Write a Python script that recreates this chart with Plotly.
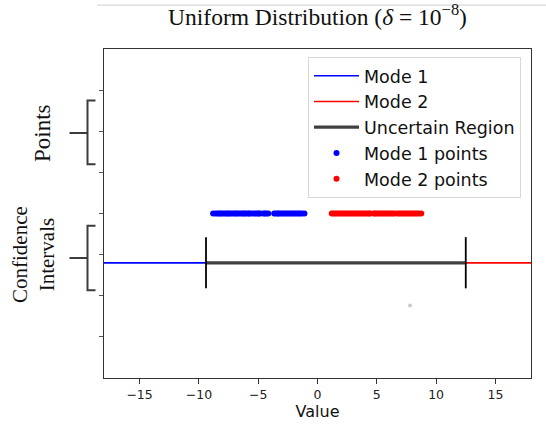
import plotly.graph_objects as go

# ---- data ----
mode1_points = [-8.8, -8.6, -8.45, -8.3, -8.2, -8.05, -7.9, -7.75, -7.6, -7.5, -7.35, -7.2,
                -7.05, -6.9, -6.8, -6.65, -6.5, -6.35, -6.2, -6.1, -5.95, -5.8, -5.7, -5.55,
                -5.35, -5.2, -5.05, -4.95, -4.8, -4.55, -4.45, -4.3, -4.15, -3.65, -3.5, -3.35,
                -3.25, -3.1, -2.95, -2.8, -2.65, -2.5, -2.35, -2.2, -2.05, -1.9, -1.75, -1.6,
                -1.45, -1.3, -1.1]
mode2_points = [1.2, 1.35, 1.5, 1.65, 1.8, 1.95, 2.1, 2.25, 2.4, 2.55, 2.7, 2.85, 3.0, 3.15,
                3.3, 3.45, 3.6, 3.75, 3.9, 4.05, 4.2, 4.35, 4.45, 4.75, 4.85, 5.0, 5.15, 5.3,
                5.45, 5.6, 5.75, 5.9, 6.05, 6.2, 6.35, 6.5, 6.75, 6.9, 7.05, 7.2, 7.35, 7.5,
                7.65, 7.8, 7.95, 8.1, 8.25, 8.4, 8.55, 8.75]
points_level = 0.0
ci_level = -1.2
cap_range = [-0.575, -1.82]
x_limits = [-18, 18]
ci_low, ci_high = -9.4, 12.5
stray_x = [7.8]
stray_y = [-2.24]
x_ticks = [-15, -10, -5, 0, 5, 10, 15]
y_ticks = [-3, -2, -1, 0, 1, 2, 3]

fig = go.Figure()

fig.add_trace(go.Scatter(x=[x_limits[0], ci_low], y=[ci_level, ci_level], mode="lines",
                         line=dict(color="#0000ff", width=1.6), name="Mode 1", legendgroup="a"))
fig.add_trace(go.Scatter(x=[ci_high, x_limits[1]], y=[ci_level, ci_level], mode="lines",
                         line=dict(color="#ff0000", width=1.6), name="Mode 2", legendgroup="b"))
fig.add_trace(go.Scatter(x=[ci_low, ci_high], y=[ci_level, ci_level], mode="lines",
                         line=dict(color="rgba(30,30,30,0.85)", width=3.2), name="Uncertain Region",
                         legendgroup="c"))
fig.add_trace(go.Scatter(x=[ci_low, ci_low], y=cap_range, mode="lines",
                         line=dict(color="black", width=1.8), showlegend=False, legendgroup="c"))
fig.add_trace(go.Scatter(x=[ci_high, ci_high], y=cap_range, mode="lines",
                         line=dict(color="black", width=1.8), showlegend=False, legendgroup="c"))
fig.add_trace(go.Scatter(x=mode1_points, y=[points_level] * len(mode1_points), mode="markers",
                         marker=dict(color="#0000ff", size=6, line=dict(width=0)), name="Mode 1 points",
                         legendgroup="d"))
fig.add_trace(go.Scatter(x=mode2_points, y=[points_level] * len(mode2_points), mode="markers",
                         marker=dict(color="#ff0000", size=6, line=dict(width=0)), name="Mode 2 points",
                         legendgroup="e"))
fig.add_trace(go.Scatter(x=stray_x, y=stray_y, mode="markers",
                         marker=dict(color="#c9c9d6", size=4), showlegend=False, legendgroup="e"))

W, H = 546, 427
L, R, T, B = 104, 15, 49, 41
pw, ph = W - L - R, H - T - B


def px2paper_x(px):
    return (px - L) / pw


def py2paper_y(py):
    return (H - B - py) / ph


shapes = []
for top, bot, mid in [(101.7, 167, 135), (230, 296, 263)]:
    xv, xe, xs = px2paper_x(87.5), px2paper_x(95.5), px2paper_x(69.5)
    yt, yb, ym = py2paper_y(top), py2paper_y(bot), py2paper_y(mid)
    shapes.append(dict(type="path", xref="paper", yref="paper",
                       path=f"M {xe},{yt} L {xv},{yt} L {xv},{yb} L {xe},{yb} M {xv},{ym} L {xs},{ym}",
                       line=dict(color="#3c3c3c", width=2)))
# faint line at top of image
shapes.append(dict(type="line", xref="paper", yref="paper",
                   x0=px2paper_x(97), x1=px2paper_x(546), y0=py2paper_y(4), y1=py2paper_y(4),
                   line=dict(color="#d0d0d0", width=1)))

annotations = [
    dict(text="Points", xref="paper", yref="paper", x=px2paper_x(43), y=py2paper_y(135),
         showarrow=False, textangle=-90, font=dict(family="Liberation Serif", size=23, color="#111"),
         xanchor="center", yanchor="middle"),
    dict(text="Confidence<br>Intervals", xref="paper", yref="paper", x=px2paper_x(34), y=py2paper_y(260),
         showarrow=False, textangle=-90, font=dict(family="Liberation Serif", size=21, color="#111"),
         xanchor="center", yanchor="middle"),
]

fig.update_layout(
    width=W, height=H,
    margin=dict(l=L, r=R, t=T, b=B),
    paper_bgcolor="white", plot_bgcolor="white",
    title=dict(text="Uniform Distribution (<i>δ</i> = 10<sup>−8</sup>)", x=(L + pw / 2) / W, xanchor="center",
               y=1 - 17 / H, yanchor="middle", yref="container",
               font=dict(family="Liberation Serif", size=23.5, color="#111")),
    xaxis=dict(range=x_limits, tickvals=x_ticks, ticktext=[str(v).replace("-", "−") for v in x_ticks],
               ticks="outside", ticklen=5, tickcolor="#333", showline=True, linecolor="#333", linewidth=1.2,
               mirror=True, showgrid=False, zeroline=False,
               tickfont=dict(family="DejaVu Sans", size=12.5, color="#222"),
               title=dict(text="Value", font=dict(family="DejaVu Sans", size=16, color="#111"), standoff=2)),
    yaxis=dict(range=[-4, 4], tickvals=y_ticks, showticklabels=False, ticks="outside", ticklen=4,
               tickcolor="#555", showline=True, linecolor="#333", linewidth=1.2, mirror=True,
               showgrid=False, zeroline=False),
    legend=dict(x=px2paper_x(308), y=py2paper_y(57), xanchor="left", yanchor="top",
                bgcolor="white", bordercolor="#d8d8d8", borderwidth=1,
                font=dict(family="DejaVu Sans", size=17.5, color="#111"),
                tracegroupgap=0, itemwidth=45),
    shapes=shapes, annotations=annotations, showlegend=True,
)

fig.write_html("out.html", config={"displayModeBar": False},
               post_script="document.body.style.margin='0px';")
